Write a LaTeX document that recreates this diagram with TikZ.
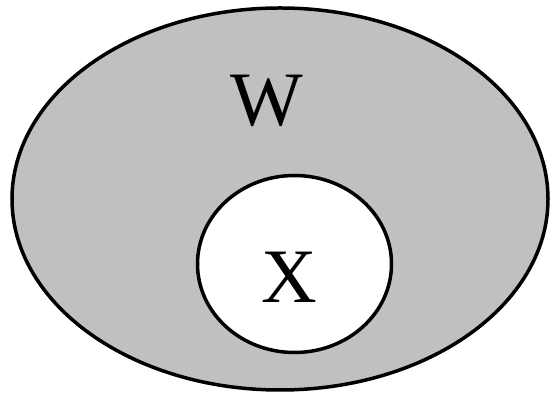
\documentclass[tikz,border=0pt]{standalone}
\usepackage{fontspec}
\setmainfont{Liberation Serif}
\usepackage{tikz}
\definecolor{grisW}{RGB}{192,192,192}

\begin{document}
\begin{tikzpicture}[x=1pt,y=1pt,
  ens/.style={draw=black,line width=3.5pt},
  lettre/.style={font=\fontsize{77}{80}\selectfont,inner sep=0pt}]

  \useasboundingbox (0,0) rectangle (551,398);

  % Ensemble W
  \draw[ens,fill=grisW] (280,199) ellipse [x radius=268, y radius=191];
  \node[lettre] (lblW) at (267,297) {W};

  % Sous-ensemble X
  \draw[ens,fill=white] (294.5,134) ellipse [x radius=97, y radius=88.5];
  \node[lettre] (lblX) at (289,121) {X};
\end{tikzpicture}
\end{document}
